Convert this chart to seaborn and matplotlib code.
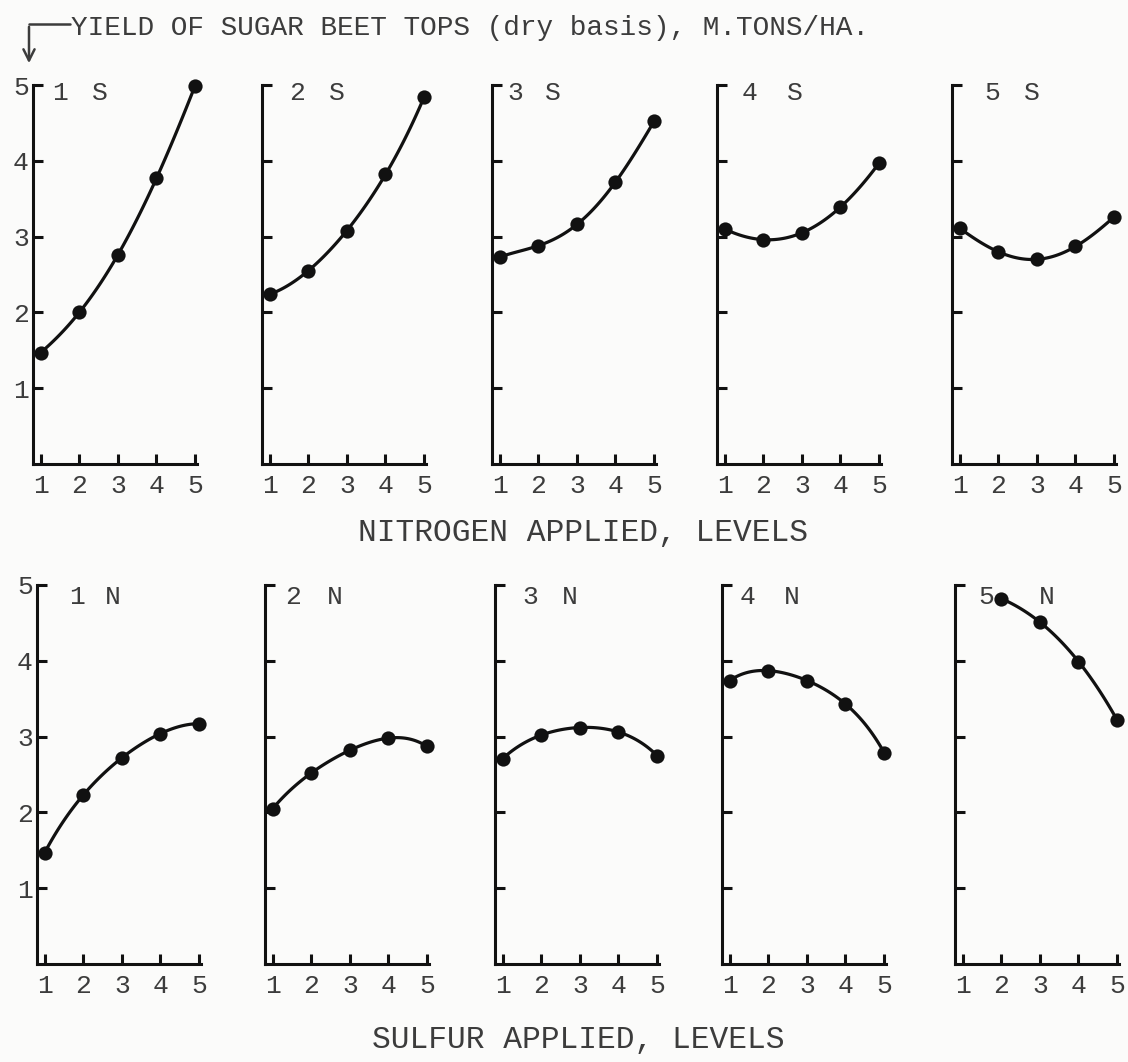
import numpy as np
import matplotlib
matplotlib.use("Agg")
import matplotlib.pyplot as plt
import seaborn as sns
from matplotlib.lines import Line2D


# ==========================================================
# DATA  (yield of sugar beet tops, dry basis, m.tons/ha)
# ==========================================================

levels = [1, 2, 3, 4, 5]

# top row: nitrogen level on x, one panel per sulfur level
s1 = [1.47, 2.00, 2.76, 3.77, 4.99]
s2 = [2.24, 2.55, 3.08, 3.82, 4.84]
s3 = [2.73, 2.88, 3.16, 3.72, 4.52]
s4 = [3.10, 2.96, 3.05, 3.39, 3.97]
s5 = [3.11, 2.80, 2.70, 2.87, 3.26]

# bottom row: sulfur level on x, one panel per nitrogen level
n1 = [1.47, 2.23, 2.72, 3.04, 3.17]
n2 = [2.05, 2.52, 2.82, 2.98, 2.87]
n3 = [2.71, 3.02, 3.12, 3.06, 2.75]
n4 = [3.74, 3.87, 3.74, 3.43, 2.79]
n5 = [np.nan, 4.82, 4.51, 3.99, 3.22]

top_series = [s1, s2, s3, s4, s5]
bot_series = [n1, n2, n3, n4, n5]

top_names = ["1", "2", "3", "4", "5"]
bot_names = ["1", "2", "3", "4", "5"]

y_ticks = [1, 2, 3, 4, 5]

title = "YIELD OF SUGAR BEET TOPS (dry basis), M.TONS/HA."
top_xlabel = "NITROGEN APPLIED, LEVELS"
bot_xlabel = "SULFUR APPLIED, LEVELS"


# ==========================================================
# LAYOUT (pixels)
# ==========================================================

W, H = 1128, 1062

top_lefts = [33, 262, 492, 717, 952]
bot_lefts = [37, 265, 495, 722, 955]

top_axis_y = 464
bot_axis_y = 964

panel_w = 164
panel_h = 379

# label offsets from axis left (number, letter)
top_lab_x = [(27, 67), (35, 75), (23, 61), (33, 78), (40, 80)]
bot_lab_x = [(40, 76), (28, 70), (35, 75), (26, 70), (31, 92)]

ink = "#111111"
type_ink = "#3c3c3c"
paper = "#fbfbfa"


sns.set_theme(style="ticks")

plt.rcParams["font.family"] = ["Liberation Mono", "DejaVu Sans Mono"]

fig = plt.figure(
    figsize=(W / 100, H / 100),
    dpi=100,
    facecolor=paper
)


def fx(px):
    return px / W


def fy(py):
    return 1 - py / H


# ==========================================================
# PANELS
# ==========================================================

def draw_panel(
    left,
    axis_y,
    values,
    first,
    name,
    letter,
    lab_x,
    lab_dy
):

    ax = fig.add_axes([
        fx(left),
        fy(axis_y),
        panel_w / W,
        panel_h / H
    ])

    ax.set_facecolor("none")

    x = np.array(levels, dtype=float)
    y = np.array(values, dtype=float)
    ok = ~np.isnan(y)

    sns.regplot(
        x=x[ok],
        y=y[ok],
        order=int(ok.sum()) - 1,
        ci=None,
        ax=ax,
        color=ink,
        scatter_kws=dict(
            s=105,
            color=ink,
            alpha=1,
            linewidths=0,
            clip_on=False,
            zorder=4
        ),
        line_kws=dict(lw=2.3, color=ink, clip_on=False, zorder=3)
    )

    ax.set_xlim(0.8, 5.05)
    ax.set_ylim(0, 5)

    ax.set_xticks(levels)
    ax.set_yticks(y_ticks)

    ax.set_xticklabels([str(v) for v in levels])

    if first:
        ax.set_yticklabels([str(v) for v in y_ticks])
    else:
        ax.set_yticklabels([])

    ax.set_xlabel("")
    ax.set_ylabel("")

    for side in ["top", "right"]:
        ax.spines[side].set_visible(False)

    for side in ["left", "bottom"]:
        ax.spines[side].set_linewidth(2.2)
        ax.spines[side].set_color(ink)

    ax.tick_params(
        axis="both",
        direction="in",
        length=7,
        width=2.2,
        color=ink,
        labelsize=19,
        labelcolor=type_ink
    )

    ax.tick_params(axis="x", pad=7)
    ax.tick_params(axis="y", pad=3)

    # panel label, typed next to the top of the axis
    top_px = axis_y - panel_h + lab_dy

    fig.text(
        fx(left + lab_x[0]),
        fy(top_px),
        name,
        ha="center",
        va="center",
        fontsize=19,
        color=type_ink
    )

    fig.text(
        fx(left + lab_x[1]),
        fy(top_px),
        letter,
        ha="center",
        va="center",
        fontsize=19,
        color=type_ink
    )

    return ax


for i in range(5):

    draw_panel(
        top_lefts[i],
        top_axis_y,
        top_series[i],
        i == 0,
        top_names[i],
        "S",
        top_lab_x[i],
        8
    )

    draw_panel(
        bot_lefts[i],
        bot_axis_y,
        bot_series[i],
        i == 0,
        bot_names[i],
        "N",
        bot_lab_x[i],
        12
    )


# ==========================================================
# TITLE, ARROW, AXIS LABELS
# ==========================================================

fig.text(
    fx(71),
    fy(28),
    title,
    ha="left",
    va="center",
    fontsize=20,
    color=type_ink
)

fig.add_artist(
    Line2D(
        [fx(29), fx(70)],
        [fy(24), fy(24)],
        transform=fig.transFigure,
        color=type_ink,
        lw=1.8
    )
)

fig.add_artist(
    matplotlib.patches.FancyArrowPatch(
        (fx(29), fy(24)),
        (fx(29), fy(66)),
        transform=fig.transFigure,
        arrowstyle="->,head_width=4,head_length=8",
        color=type_ink,
        lw=1.8
    )
)

fig.text(
    fx(583),
    fy(533),
    top_xlabel,
    ha="center",
    va="center",
    fontsize=22.5,
    color=type_ink
)

fig.text(
    fx(578),
    fy(1040),
    bot_xlabel,
    ha="center",
    va="center",
    fontsize=22.5,
    color=type_ink
)

fig.savefig(
    "out.png",
    dpi=100,
    facecolor=paper
)

plt.close(fig)
